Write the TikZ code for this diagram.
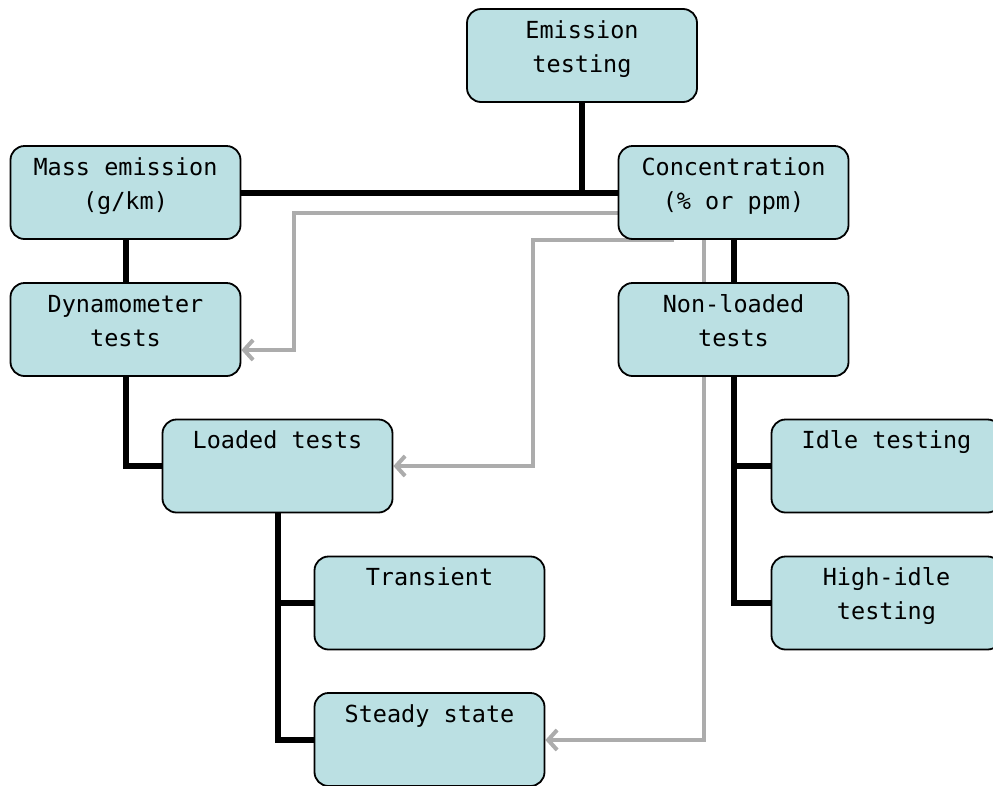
\documentclass[tikz,border=0pt]{standalone}
\usepackage{fontspec}
\newfontfamily\diagmono{DejaVu Sans Mono}
\usetikzlibrary{arrows.meta}
\definecolor{boxfill}{RGB}{187,224,227}
\definecolor{linegray}{RGB}{172,172,172}
\begin{document}
\begin{tikzpicture}[x=1pt,y=-1pt,
  box/.style={draw=black, line width=1.8pt, fill=boxfill, rounded corners=14pt,
    minimum width=230pt, minimum height=93pt, inner sep=0pt},
  txt/.style={anchor=base, align=center, inner sep=0pt,
    font=\diagmono\fontsize{23.5}{34}\selectfont},
  blk/.style={draw=black, line width=6pt},
  gry/.style={draw=linegray, line width=4pt, -{Straight Barb[length=9pt,width=20pt,line width=4pt]}}
]
\useasboundingbox (0,0) rectangle (993,785);
\clip (0,0) rectangle (993,785);
% box geometry (nodes first, filled later on top of lines)
\path
  (582,55.5)   node[box,draw=none,fill=none] (emis) {}
  (125.5,192.5) node[box,draw=none,fill=none] (mass) {}
  (733.5,192.5) node[box,draw=none,fill=none] (conc) {}
  (125.5,329.5) node[box,draw=none,fill=none] (dyn) {}
  (733.5,329.5) node[box,draw=none,fill=none] (nonl) {}
  (277.5,466)   node[box,draw=none,fill=none] (load) {}
  (429.5,603)   node[box,draw=none,fill=none] (trans) {}
  (429.5,739.5) node[box,draw=none,fill=none] (steady) {}
  (886.5,466)   node[box,draw=none,fill=none] (idle) {}
  (886.5,603)   node[box,draw=none,fill=none] (hidle) {};
% gray connectors
\coordinate (g1) at (619,213);
\coordinate (g1b) at (294,350);
\coordinate (g2) at (674,240);
\coordinate (g2b) at (533,466);
\coordinate (g3) at (704,239);
\coordinate (g3b) at (704,740);
\draw[gry] (g1) -| (g1b) -- (dyn.east |- g1b);
\draw[gry] (g2) -| (g2b) -- (load.east);
\draw[gry] (g3) -- (g3b) -- (steady.east |- g3b);
% black connectors
\draw[blk] (emis.south) -- (emis.south |- mass.east);
\draw[blk] (mass.east) -- (conc.west);
\draw[blk] (mass.south) -- (dyn.north);
\draw[blk] (dyn.south) |- (load.west);
\draw[blk] (load.south) |- (trans.west);
\draw[blk] (load.south) |- (steady.west);
\draw[blk] (conc.south) -- (nonl.north);
\draw[blk] (nonl.south) |- (idle.west);
\draw[blk] (nonl.south) |- (hidle.west);
% boxes drawn on top
\foreach \n in {emis,mass,conc,dyn,nonl,load,trans,steady,idle,hidle}
  \node[box] at (\n) {};
% texts (base = baseline of last line)
\node[txt] (temis) at ([yshift=-64pt]emis.north) {Emission\\testing};
\node[txt] (tmass) at ([yshift=-64pt]mass.north) {Mass emission\\(g/km)};
\node[txt] (tconc) at ([yshift=-64pt]conc.north) {Concentration\\(\% or ppm)};
\node[txt] (tdyn) at ([yshift=-64pt]dyn.north) {Dynamometer\\tests};
\node[txt] (tnonl) at ([yshift=-64pt]nonl.north) {Non-loaded\\tests};
\node[txt] (tload) at ([yshift=-30pt]load.north) {Loaded tests};
\node[txt] (ttrans) at ([yshift=-30pt]trans.north) {Transient};
\node[txt] (tsteady) at ([yshift=-30pt]steady.north) {Steady state};
\node[txt] (tidle) at ([yshift=-30pt]idle.north) {Idle testing};
\node[txt] (thidle) at ([yshift=-64pt]hidle.north) {High-idle\\testing};
\end{tikzpicture}
\end{document}
